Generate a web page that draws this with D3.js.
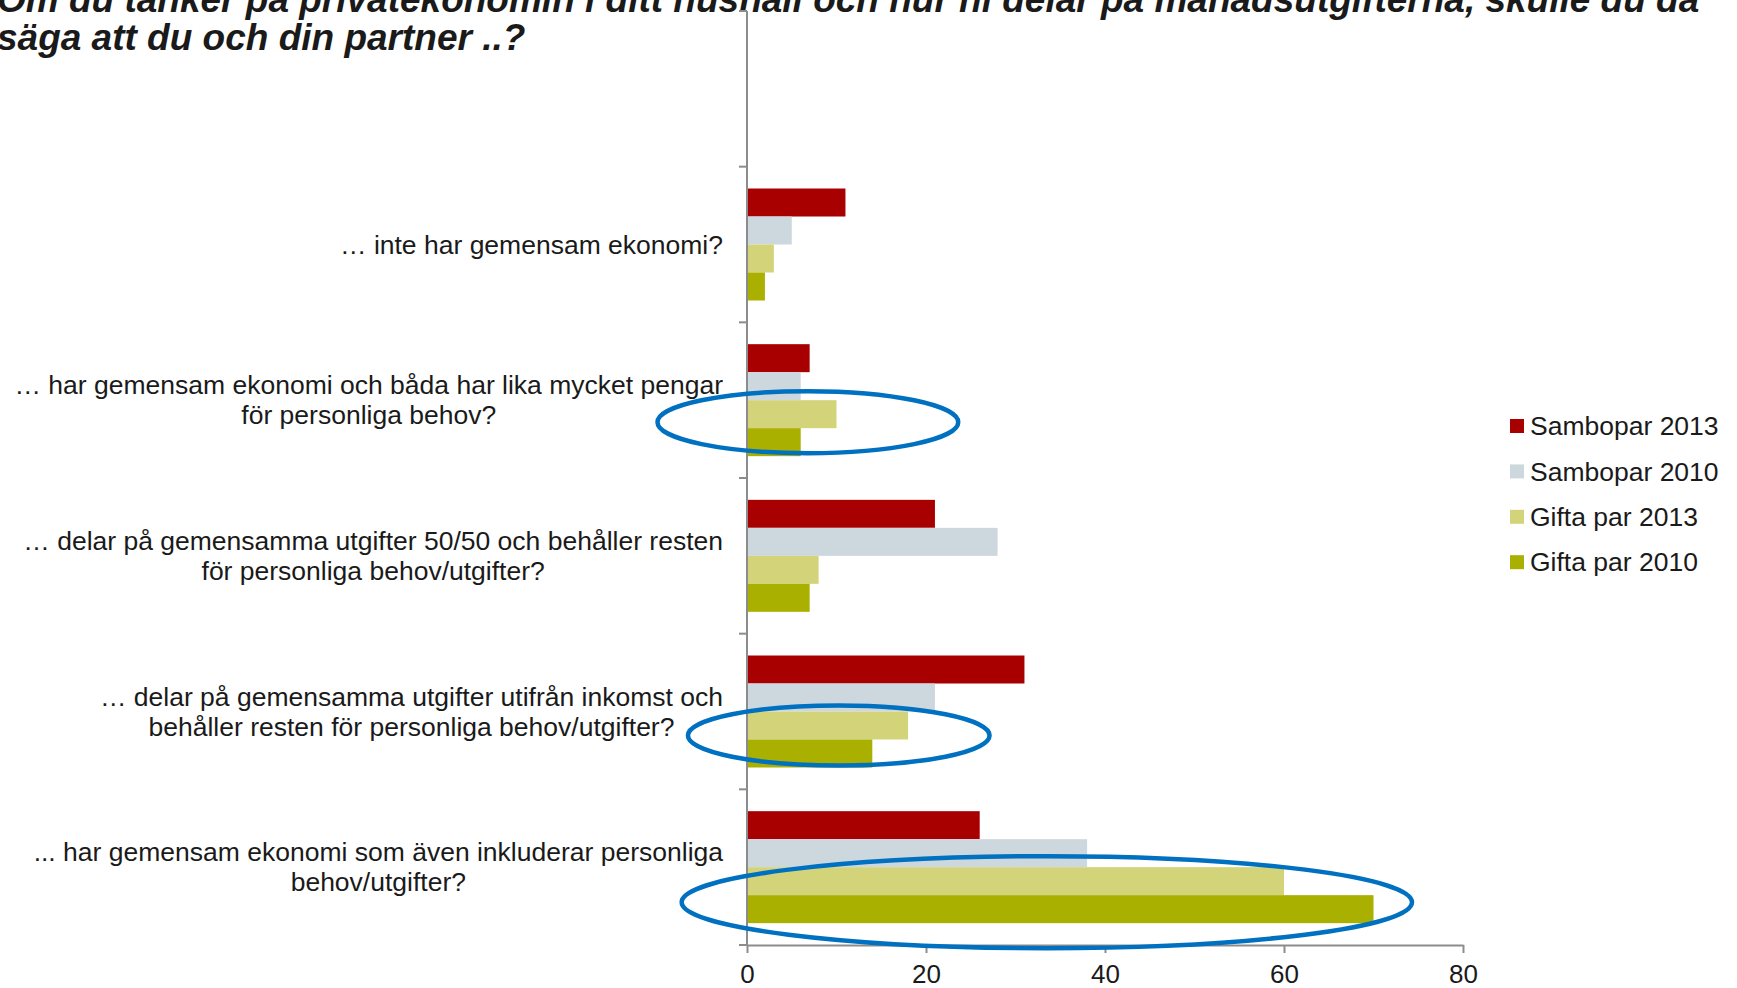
<!DOCTYPE html>
<html>
<head>
<meta charset="utf-8">
<script src="https://cdn.jsdelivr.net/npm/d3@7"></script>
<style>
  body { margin: 0; background: #fff; }
  text { font-family: Arial, "Liberation Sans", sans-serif; fill: #1a1a1a; }
  .axis path, .axis line { stroke: #8c8c8c; stroke-width: 2; }
</style>
</head>
<body>
<div id="chart"></div>
<script>
// data
var titleLines = [
  "Om du tänker på privatekonomin i ditt hushåll och hur ni delar på månadsutgifterna, skulle du då",
  "säga att du och din partner ..?"
];
var categories = ["blank", "c1", "c2", "c3", "c4", "c5"];
var categoryLabels = [
  [],
  ["… inte har gemensam ekonomi?"],
  ["… har gemensam ekonomi och båda har lika mycket pengar", "för personliga behov?"],
  ["… delar på gemensamma utgifter 50/50 och behåller resten", "för personliga behov/utgifter?"],
  ["… delar på gemensamma utgifter utifrån inkomst och", "behåller resten för personliga behov/utgifter?"],
  ["... har gemensam ekonomi som även inkluderar personliga", "behov/utgifter?"]
];
var seriesNames = ["Sambopar 2013", "Sambopar 2010", "Gifta par 2013", "Gifta par 2010"];
var sambo2013 = [null, 11, 7, 21, 31, 26];
var sambo2010 = [null, 5, 6, 28, 21, 38];
var gifta2013 = [null, 3, 10, 8, 18, 60];
var gifta2010 = [null, 2, 6, 7, 14, 70];
var xTicks = [0, 20, 40, 60, 80];

// highlighted groups (category, value range)
var highlightCats = ["c2", "c4", "c5"];
var highlightFrom = [-10, -6.6, -7.3];
var highlightTo = [23.6, 27.1, 74.3];

var colors = ["#a80000", "#cdd7de", "#d3d47a", "#a9b000"];
var seriesValues = [sambo2013, sambo2010, gifta2013, gifta2010];

var W = 1737, H = 988;
var svg = d3.select("#chart").append("svg")
    .attr("width", W)
    .attr("height", H);

var x = d3.scaleLinear().domain([0, 80]).range([747, 1463]);
var y = d3.scaleBand().domain(categories).range([11, 945]);
var ySub = d3.scaleBand().domain(seriesNames).range([0, y.bandwidth()]).paddingOuter(0.78);

var color = d3.scaleOrdinal().domain(seriesNames).range(colors);

// title (first line runs off the top, as in the slide)
svg.append("g").selectAll("text")
   .data(titleLines)
   .enter().append("text")
   .attr("x", -3)
   .attr("y", function(d, i) { return 12 + i * 38; })
   .attr("font-size", 37)
   .attr("font-weight", "bold")
   .attr("font-style", "italic")
   .text(function(d) { return d; });

// bars
var rows = [];
categories.forEach(function(c, i) {
  seriesNames.forEach(function(s, j) {
    if (seriesValues[j][i] != null) rows.push({cat: c, series: s, value: seriesValues[j][i]});
  });
});

svg.append("g").selectAll("rect")
   .data(rows)
   .enter().append("rect")
   .attr("x", x(0))
   .attr("y", function(d) { return y(d.cat) + ySub(d.series); })
   .attr("width", function(d) { return x(d.value) - x(0); })
   .attr("height", ySub.bandwidth())
   .attr("fill", function(d) { return color(d.series); });

// x axis
svg.append("g")
   .attr("class", "axis")
   .attr("transform", "translate(0," + y.range()[1] + ")")
   .call(d3.axisBottom(x).tickValues(xTicks).tickSize(8).tickSizeOuter(0).tickPadding(12))
   .selectAll("text")
   .attr("font-size", 26)
   .attr("fill", "#1a1a1a");

// y axis: line + ticks on band edges
var yAxis = svg.append("g").attr("class", "axis");
yAxis.append("line")
   .attr("x1", x(0)).attr("x2", x(0))
   .attr("y1", y.range()[0]).attr("y2", y.range()[1]);
yAxis.selectAll(".tk")
   .data(categories.map(function(c) { return y(c); }).concat([y.range()[1]]))
   .enter().append("line")
   .attr("class", "tk")
   .attr("x1", x(0) - 8).attr("x2", x(0))
   .attr("y1", function(d) { return d; })
   .attr("y2", function(d) { return d; });

// category labels
var lbl = svg.append("g").selectAll("g")
   .data(categories)
   .enter().append("g");
lbl.each(function(c, i) {
  var lines = categoryLabels[i];
  var cy = y(c) + y.bandwidth() / 2;
  var lh = 30;
  var top = cy - (lines.length - 1) * lh / 2;
  d3.select(this).selectAll("text")
    .data(lines)
    .enter().append("text")
    .attr("x", 723)
    .attr("y", function(d, k) { return top + k * lh; })
    .attr("dy", "0.35em")
    .attr("font-size", 26.5)
    .attr("text-anchor", lines.length > 1 ? "middle" : "end")
    .text(function(d) { return d; });
});
// two-line labels: centred lines in a right-aligned block
lbl.each(function() {
  var t = d3.select(this).selectAll("text");
  if (t.size() < 2) return;
  var wmax = 0;
  t.each(function() { wmax = Math.max(wmax, this.getComputedTextLength()); });
  t.attr("x", 723 - wmax / 2);
});

// highlight ellipses
svg.append("g").selectAll("ellipse")
   .data(highlightCats)
   .enter().append("ellipse")
   .attr("cx", function(d, i) { return (x(highlightFrom[i]) + x(highlightTo[i])) / 2; })
   .attr("cy", function(d, i) {
      var top = y(d) + ySub("Gifta par 2013");
      var bot = y(d) + ySub("Gifta par 2010") + ySub.bandwidth();
      return (top + bot) / 2 + [-6, -4, 7][i];
   })
   .attr("rx", function(d, i) { return (x(highlightTo[i]) - x(highlightFrom[i])) / 2; })
   .attr("ry", function(d, i) { return [31, 30, 46][i]; })
   .attr("fill", "none")
   .attr("stroke", "#0070c0")
   .attr("stroke-width", 4.5);

// legend
var legend = svg.append("g")
   .attr("transform", "translate(1510,426)");
var li = legend.selectAll("g")
   .data(seriesNames)
   .enter().append("g")
   .attr("transform", function(d, i) { return "translate(0," + i * 45.4 + ")"; });
li.append("rect")
   .attr("x", 0).attr("y", -7)
   .attr("width", 14).attr("height", 14)
   .attr("fill", function(d) { return color(d); });
li.append("text")
   .attr("x", 20)
   .attr("dy", "0.35em")
   .attr("font-size", 26.5)
   .text(function(d) { return d; });
</script>
</body>
</html>
